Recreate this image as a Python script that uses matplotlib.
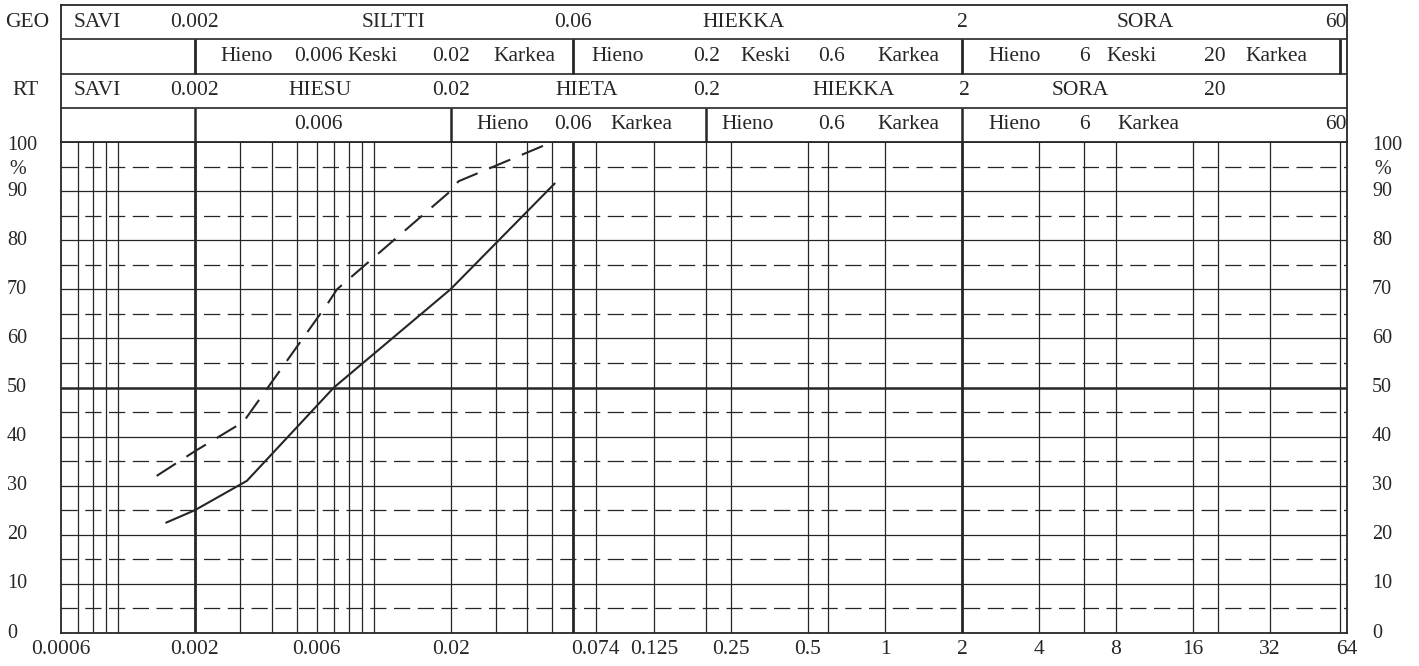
import matplotlib.pyplot as plt
from matplotlib import transforms
from matplotlib.ticker import NullLocator

plt.rcParams['font.family'] = ['Liberation Serif', 'DejaVu Serif']

INK = '#262626'
FS = 15.5

# grain size (mm) vs passing (%)
solid_d = [0.00155, 0.002, 0.0032, 0.007, 0.02, 0.051]
solid_p = [22.5, 25, 31, 50, 70, 91.5]
dash_d = [0.00142, 0.002, 0.0031, 0.0066, 0.0072, 0.02, 0.0215, 0.05]
dash_p = [32, 37, 43, 67, 70, 90, 92, 100]

# grid
thin_x = [0.0007, 0.0008, 0.0009, 0.001, 0.003, 0.004, 0.005, 0.006, 0.007,
          0.008, 0.009, 0.01, 0.02, 0.03, 0.04, 0.05, 0.074, 0.125, 0.2,
          0.25, 0.5, 0.6, 1, 4, 6, 8, 16, 20, 32, 60]
bold_x = [0.002, 0.06, 2]
solid_y = [10, 20, 30, 40, 60, 70, 80, 90]
dashed_y = [5, 15, 25, 35, 45, 55, 65, 75, 85, 95]

xtick_vals = [0.0006, 0.002, 0.006, 0.02, 0.074, 0.125, 0.25, 0.5, 1, 2, 4, 8, 16, 32, 64]
xtick_txt = ['0.0006', '0.002', '0.006', '0.02', '0.074', '0.125', '0.25', '0.5',
             '1', '2', '4', '8', '16', '32', '64']
ytick_vals = [0, 10, 20, 30, 40, 50, 60, 70, 80, 90]

# header table (label, x position in mm)
geo_main = [('SAVI', 0.00083), ('0.002', 0.002), ('SILTTI', 0.012), ('0.06', 0.06),
            ('HIEKKA', 0.28), ('2', 2), ('SORA', 10.4)]
geo_sub = [('Hieno', 0.0032), ('0.006', 0.0061), ('Keski', 0.0099), ('0.02', 0.02),
           ('Karkea', 0.039), ('Hieno', 0.09), ('0.2', 0.2), ('Keski', 0.34),
           ('0.6', 0.62), ('Karkea', 1.24), ('Hieno', 3.2), ('6', 6),
           ('Keski', 9.24), ('20', 19.5), ('Karkea', 34)]
rt_main = [('SAVI', 0.00083), ('0.002', 0.002), ('HIESU', 0.0062), ('0.02', 0.02),
           ('HIETA', 0.068), ('0.2', 0.2), ('HIEKKA', 0.75), ('2', 2.05),
           ('SORA', 5.8), ('20', 19.5)]
rt_sub = [('0.006', 0.0061), ('Hieno', 0.032), ('0.06', 0.06), ('Karkea', 0.112),
          ('Hieno', 0.29), ('0.6', 0.62), ('Karkea', 1.24), ('Hieno', 3.2),
          ('6', 6), ('Karkea', 10.7)]
geo_sub_lines = [0.002, 0.06, 2, 60]
rt_sub_lines = [0.002, 0.02, 0.2, 2]

fig = plt.figure(figsize=(14.19, 6.66), dpi=100)
W, H = 1419, 666
ax = fig.add_axes([61 / W, 33 / H, 1286 / W, 491 / H])
axh = fig.add_axes([61 / W, 524 / H, 1286 / W, 137 / H], sharex=ax)

ax.set_xscale('log')
ax.set_xlim(0.0006, 64)
ax.set_ylim(0, 100)

for x in thin_x:
    ax.axvline(x, color=INK, lw=0.9)
for x in bold_x:
    ax.axvline(x, color=INK, lw=2.0)
for y in solid_y:
    ax.axhline(y, color=INK, lw=0.9)
for y in dashed_y:
    ax.axhline(y, color=INK, lw=0.9, dashes=(13, 6))
ax.axhline(50, color=INK, lw=1.8)

ax.plot(solid_d, solid_p, color=INK, lw=1.5)
ax.plot(dash_d, dash_p, color=INK, lw=1.5, dashes=(11, 6))

ax.xaxis.set_minor_locator(NullLocator())
ax.set_xticks(xtick_vals)
ax.set_xticklabels(xtick_txt, fontsize=FS, color=INK)
ax.set_yticks([])
ax.tick_params(axis='x', length=0, pad=5)
for s in ax.spines.values():
    s.set_color(INK)
    s.set_linewidth(1.3)

# y labels on both sides
tl = transforms.blended_transform_factory(fig.transFigure, ax.transData)
for v in ytick_vals:
    fig.text(7 / W, v, str(v), transform=tl, ha='left', va='center', fontsize=14.5, color=INK)
    fig.text(1372 / W, v, str(v), transform=tl, ha='left', va='center', fontsize=14.5, color=INK)
for xx in (7 / W, 1372 / W):
    fig.text(xx, 99.3, '100', transform=tl, ha='left', va='center', fontsize=14.5, color=INK)
    fig.text(xx + 2 / W, 94.3, '%', transform=tl, ha='left', va='center', fontsize=14.5, color=INK)

# header
axh.set_ylim(0, 4)
axh.set_yticks([])
axh.tick_params(axis='x', which='both', length=0, labelbottom=False)
for s in axh.spines.values():
    s.set_color(INK)
    s.set_linewidth(1.3)
for y in (1, 2, 3):
    axh.axhline(y, color=INK, lw=1.2)
axh.vlines(geo_sub_lines, 2, 3, color=INK, lw=2.0)
axh.vlines(rt_sub_lines, 0, 1, color=INK, lw=1.8)

for row, yc in ((geo_main, 3.5), (geo_sub, 2.5), (rt_main, 1.5), (rt_sub, 0.5)):
    for txt, x in row:
        axh.text(x, yc, txt, ha='center', va='center', fontsize=FS, color=INK)
for yc in (3.5, 0.5):
    axh.text(63.5, yc, '60', ha='right', va='center', fontsize=FS, color=INK)

th = transforms.blended_transform_factory(fig.transFigure, axh.transData)
fig.text(27 / W, 3.5, 'GEO', transform=th, ha='center', va='center', fontsize=FS, color=INK)
fig.text(26 / W, 1.5, 'RT', transform=th, ha='center', va='center', fontsize=FS, color=INK)

fig.savefig('out.png', dpi=100)
